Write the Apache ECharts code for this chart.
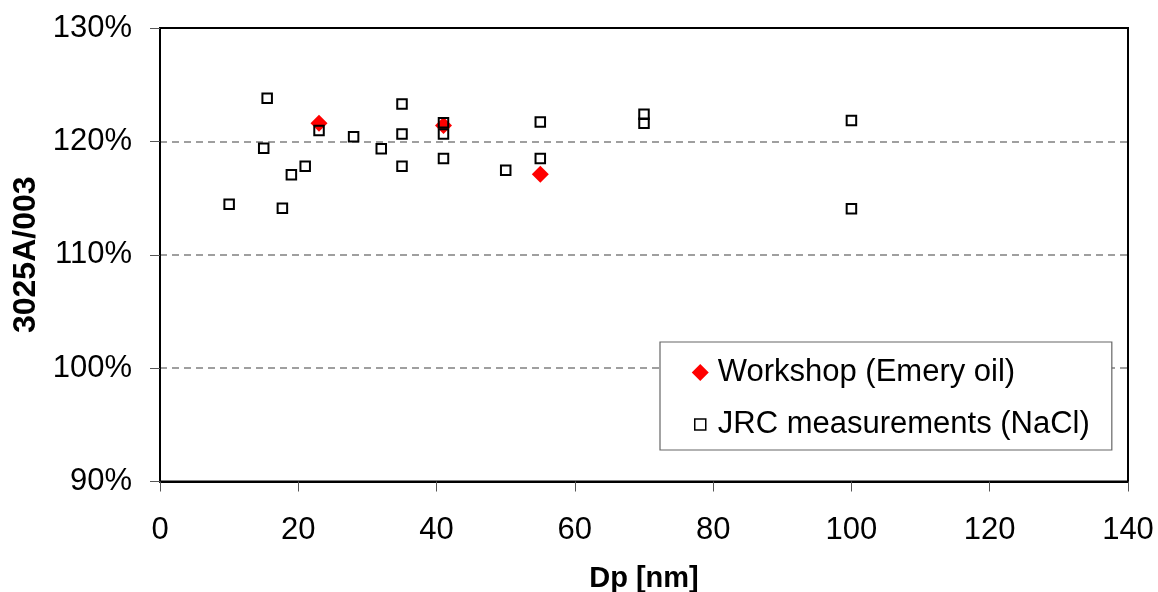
<!DOCTYPE html>
<html>
<head>
<meta charset="utf-8">
<script src="https://cdn.jsdelivr.net/npm/echarts@6/dist/echarts.min.js"></script>
<style>
  html, body { margin: 0; padding: 0; background: #fff; }
  #chart { width: 1158px; height: 592px; }
</style>
</head>
<body>
<div id="chart"></div>
<script>
// Particle diameter (nm) and ratio 3025A/003 (%)
const workshopDp = [23, 41, 55];
const workshopRatio = [121.6, 121.4, 117.1];

const jrcDp = [10, 15, 15.5, 17.7, 19, 21, 23, 28, 32, 35, 35, 35, 41, 41, 41, 50, 55, 55, 70, 70, 100, 100];
const jrcRatio = [114.45, 119.4, 123.8, 114.1, 117.05, 117.8, 120.95, 120.4, 119.35, 123.3, 120.65, 117.8, 121.65, 120.65, 118.5, 117.45, 121.7, 118.5, 122.4, 121.6, 121.85, 114.05];

const seriesNames = ['Workshop (Emery oil)', 'JRC measurements (NaCl)'];
const xTitle = 'Dp [nm]';
const yTitle = '3025A/003';

const pairs = (xs, ys) => xs.map((x, i) => [x, ys[i]]);

const FONT = '"Liberation Sans", Arial, sans-serif';

const chart = echarts.init(document.getElementById('chart'), null, { renderer: 'canvas' });

chart.setOption({
  animation: false,
  backgroundColor: '#ffffff',
  textStyle: { fontFamily: FONT },
  grid: {
    left: 160, right: 30, top: 28, bottom: 110.5,
    outerBoundsMode: 'none',
    containLabel: false,
    show: true, borderColor: '#000', borderWidth: 2, backgroundColor: 'transparent'
  },
  xAxis: {
    type: 'value',
    min: 0, max: 140, interval: 20,
    name: xTitle,
    nameLocation: 'middle',
    nameGap: 83,
    nameTextStyle: { fontFamily: FONT, fontSize: 29, fontWeight: 'bold', color: '#000' },
    axisLine: { show: true, lineStyle: { color: '#000', width: 2 } },
    axisTick: { show: true, length: 10, lineStyle: { color: '#555', width: 1 } },
    axisLabel: { fontFamily: FONT, fontSize: 31, color: '#000', margin: 33 },
    splitLine: { show: false }
  },
  yAxis: {
    type: 'value',
    min: 90, max: 130, interval: 10,
    name: yTitle,
    nameLocation: 'middle',
    nameGap: 116,
    nameRotate: 90,
    nameTextStyle: { fontFamily: FONT, fontSize: 32, fontWeight: 'bold', color: '#000' },
    axisLine: { show: true, lineStyle: { color: '#000', width: 2 } },
    axisTick: { show: true, length: 10, lineStyle: { color: '#555', width: 1 } },
    axisLabel: { fontFamily: FONT, fontSize: 31, color: '#000', margin: 28, formatter: v => v + '%' },
    splitLine: {
      show: true, showMinLine: false, showMaxLine: false,
      lineStyle: { color: '#808080', width: 1.5, type: [7, 5] }
    }
  },
  legend: {
    orient: 'vertical',
    left: 660, top: 342,
    padding: [15, 22, 10, 31],
    itemGap: 21,
    itemWidth: 17, itemHeight: 17,
    backgroundColor: '#fff',
    borderColor: '#666', borderWidth: 1.2,
    textStyle: { fontFamily: FONT, fontSize: 31, color: '#000', padding: [0, 0, 0, 4], lineHeight: 31 },
    data: [
      { name: seriesNames[0], icon: 'diamond' },
      { name: seriesNames[1], icon: 'path://M0,0M17,17M3,3L14,3L14,14L3,14Z',
        itemStyle: { color: '#fff', borderColor: '#000', borderWidth: 1.5 } }
    ]
  },
  series: [
    {
      name: seriesNames[0],
      type: 'scatter',
      symbol: 'diamond',
      symbolSize: 17,
      itemStyle: { color: '#ff0000', opacity: 1 },
      data: pairs(workshopDp, workshopRatio)
    },
    {
      name: seriesNames[1],
      type: 'scatter',
      symbol: 'rect',
      symbolSize: 9.5,
      itemStyle: { color: 'transparent', borderColor: '#000', borderWidth: 2, opacity: 1 },
      data: pairs(jrcDp, jrcRatio)
    }
  ]
});
</script>
</body>
</html>
